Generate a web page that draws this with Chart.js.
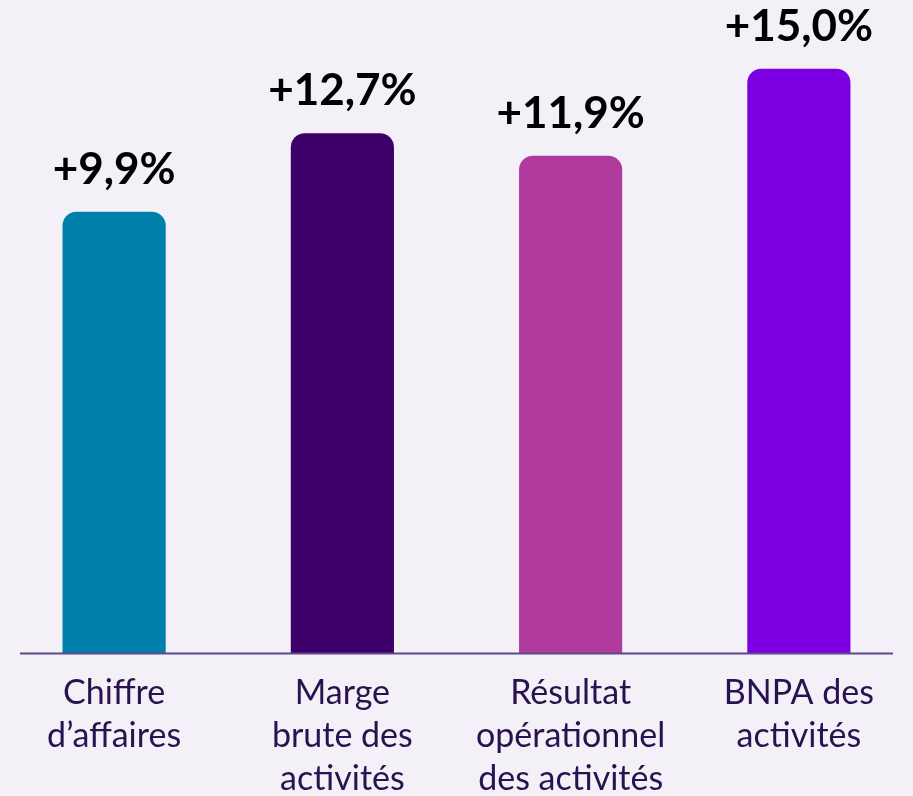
<!DOCTYPE html>
<html>
<head>
<meta charset="utf-8">
<script src="https://cdn.jsdelivr.net/npm/chart.js@4"></script>
<style>
  html, body { margin: 0; padding: 0; background: #f3f1f7; }
  canvas { display: block; }
</style>
</head>
<body>
<canvas id="barChart" width="913" height="796"></canvas>
<script>
const categories = [
  ['Chiffre', 'd\u2019affaires'],
  ['Marge', 'brute des', 'activit\u00e9s'],
  ['R\u00e9sultat', 'op\u00e9rationnel', 'des activit\u00e9s'],
  ['BNPA des', 'activit\u00e9s']
];
const growth = [9.9, 12.7, 11.9, 15.0];
const valueLabels = ['+9,9%', '+12,7%', '+11,9%', '+15,0%'];
const barColors = ['#0080aa', '#3d006b', '#b03a9e', '#7d00e5'];

// the picture's bars are not zero based, so the axis floor sits below zero
const Y_MIN = -5.85;
const Y_MAX = 17.45;

const valueLabelPlugin = {
  id: 'valueLabels',
  afterDatasetsDraw(chart) {
    const ctx = chart.ctx;
    const meta = chart.getDatasetMeta(0);
    ctx.save();
    ctx.font = 'bold 44px Lato';
    ctx.fillStyle = '#000000';
    ctx.textAlign = 'center';
    ctx.textBaseline = 'alphabetic';
    meta.data.forEach((bar, i) => {
      ctx.fillText(valueLabels[i], bar.x, bar.y - 28);
    });
    ctx.restore();
  }
};

const baseLinePlugin = {
  id: 'baseLine',
  afterDatasetsDraw(chart) {
    const ctx = chart.ctx;
    const area = chart.chartArea;
    ctx.save();
    ctx.strokeStyle = '#5c4a8a';
    ctx.lineWidth = 2;
    ctx.beginPath();
    ctx.moveTo(area.left + 20, area.bottom);
    ctx.lineTo(area.right - 20, area.bottom);
    ctx.stroke();
    ctx.restore();
  }
};

const BAR_EL = document.getElementById('barChart');
let barChart = new Chart(BAR_EL, {
  type: 'bar',
  data: {
    labels: categories,
    datasets: [{
      data: growth,
      backgroundColor: barColors,
      base: Y_MIN,
      borderRadius: { topLeft: 14, topRight: 14 },
      borderSkipped: 'start',
      categoryPercentage: 1,
      barPercentage: 0.452
    }]
  },
  options: {
    responsive: false,
    animation: false,
    layout: { padding: { left: 0, right: -10, top: 0, bottom: -23 } },
    plugins: {
      legend: { display: false },
      tooltip: { enabled: false }
    },
    scales: {
      x: {
        grid: { display: false, drawTicks: false },
        border: { display: false },
        ticks: {
          color: '#2a1150',
          font: { family: 'Lato', size: 34, lineHeight: 1.27 },
          padding: 18,
          maxRotation: 0,
          autoSkip: false
        }
      },
      y: {
        display: false,
        min: Y_MIN,
        max: Y_MAX
      }
    }
  },
  plugins: [valueLabelPlugin, baseLinePlugin]
});
</script>
</body>
</html>
